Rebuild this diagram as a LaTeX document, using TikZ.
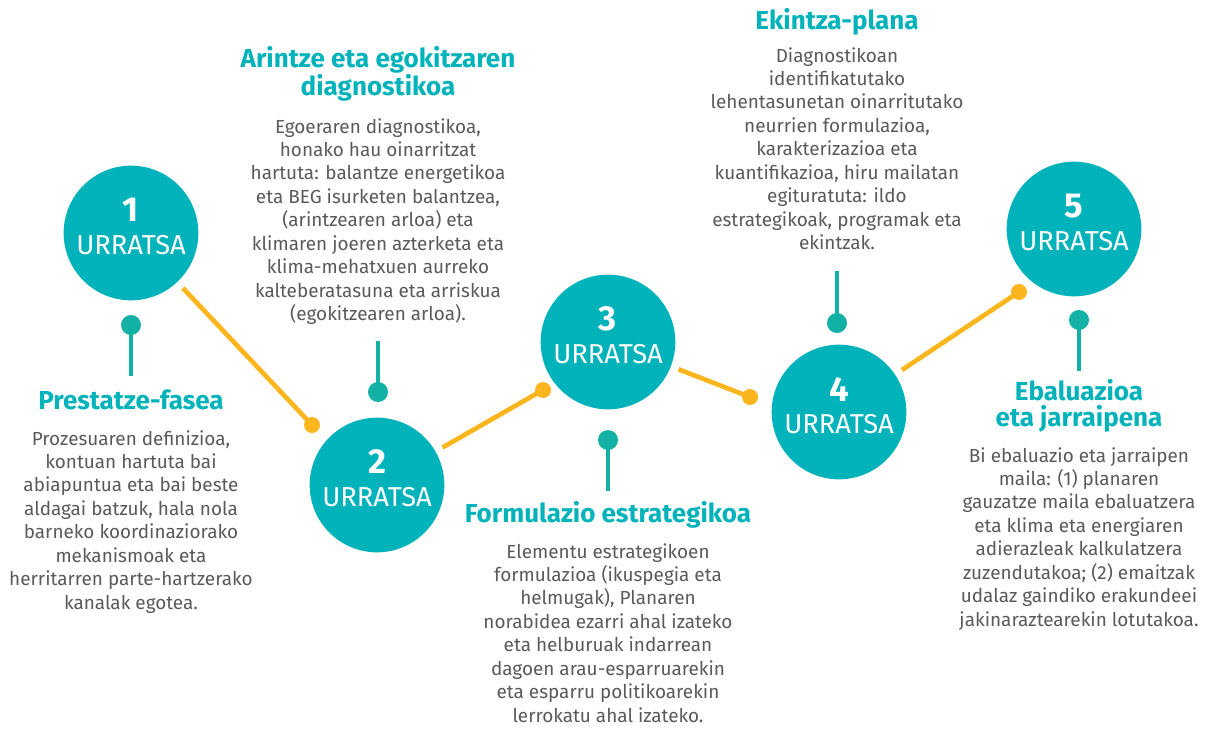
\documentclass[tikz,border=0pt]{standalone}
\usepackage{fontspec}
\setmainfont{Fira Sans}
\usetikzlibrary{positioning}

\definecolor{stepteal}{HTML}{00B3BA}
\definecolor{pinteal}{HTML}{13B0A6}
\definecolor{linkyellow}{HTML}{FBB61E}
\definecolor{bodygray}{HTML}{5A5A5A}

\tikzset{
  stepcircle/.style={circle, fill=stepteal, minimum size=101pt, inner sep=0pt},
  stepnum/.style={text=white, inner sep=0pt, font=\fontsize{26}{26}\selectfont\bfseries},
  steplabel/.style={text=white, inner sep=0pt, font=\fontsize{20.5}{20.5}\selectfont},
  ydot/.style={circle, fill=linkyellow, minimum size=12pt, inner sep=0pt},
  tdot/.style={circle, fill=pinteal, minimum size=15pt, inner sep=0pt},
  link/.style={linkyellow, line width=3.5pt, shorten <=6pt},
  pinline/.style={pinteal, line width=3pt},
  heading/.style={text=stepteal, align=center, inner sep=0pt, font=\fontsize{19.5}{19.5}\selectfont\bfseries},
  bodytext/.style={text=bodygray, align=center, anchor=north, inner sep=0pt, font=\fontsize{14.2}{17.6}\selectfont},
}

\begin{document}
\begin{tikzpicture}[x=0.75pt, y=-0.75pt]
    % white page, same size as the reference
    \useasboundingbox[fill=white] (0,0) rectangle (1206,731);

    % the five steps
    \node[stepcircle] (c1) at (131,233) {};
    \node[stepcircle] (c2) at (377,485) {};
    \node[stepcircle] (c3) at (608,342) {};
    \node[stepcircle] (c4) at (839,412) {};
    \node[stepcircle] (c5) at (1074,229) {};
    \foreach \i/\px/\py in {1/131/233, 2/377/485, 3/608/342, 4/839/412, 5/1074/229} {
        \node[stepnum] (n\i) at (\px,\py-23) {\i};
        \node[steplabel] (u\i) at (\px,\py+12) {URRATSA};
    }

    % yellow links between the steps
    \node[ydot] (yd2) at (312,425) {};
    \node[ydot] (yd3) at (543,390) {};
    \node[ydot] (yd4) at (750,397) {};
    \node[ydot] (yd5) at (1019,292) {};
    \draw[link] (c1) -- (yd2.center);
    \draw[link] (c2) -- (yd3.center);
    \draw[link] (c3) -- (yd4.center);
    \draw[link] (c4) -- (yd5.center);

    % teal pins towards the texts
    \node[tdot] (td1) at (131,325) {};
    \coordinate (tp1) at (131,376);
    \node[tdot] (td2) at (378,392) {};
    \coordinate (tp2) at (378,341);
    \node[tdot] (td3) at (608,440) {};
    \coordinate (tp3) at (608,491);
    \node[tdot] (td4) at (837,323) {};
    \coordinate (tp4) at (837,271);
    \node[tdot] (td5) at (1079,320) {};
    \coordinate (tp5) at (1079,371);
    \foreach \i in {1,...,5}
        \draw[pinline] (td\i.center) -- (tp\i);

    % texts
    \node[heading] (h1) at (131,400) {Prestatze-fasea};
    \node[bodytext] (b1) at (131,430) {Prozesuaren definizioa,\\
        kontuan hartuta bai\\
        abiapuntua eta bai beste\\
        aldagai batzuk, hala nola\\
        barneko koordinaziorako\\
        mekanismoak eta\\
        herritarren parte-hartzerako\\
        kanalak egotea.};

    \node[heading] (h2) at (378,74) {Arintze eta egokitzaren\\diagnostikoa};
    \node[bodytext] (b2) at (378,118) {Egoeraren diagnostikoa,\\
        honako hau oinarritzat\\
        hartuta: balantze energetikoa\\
        eta BEG isurketen balantzea,\\
        (arintzearen arloa) eta\\
        klimaren joeren azterketa eta\\
        klima-mehatxuen aurreko\\
        kalteberatasuna eta arriskua\\
        (egokitzearen arloa).};

    \node[heading] (h3) at (608,515) {Formulazio estrategikoa};
    \node[bodytext] (b3) at (608,543) {Elementu estrategikoen\\
        formulazioa (ikuspegia eta\\
        helmugak), Planaren\\
        norabidea ezarri ahal izateko\\
        eta helburuak indarrean\\
        dagoen arau-esparruarekin\\
        eta esparru politikoarekin\\
        lerrokatu ahal izateko.};

    \node[heading] (h4) at (837,22) {Ekintza-plana};
    \node[bodytext] (b4) at (837,47) {Diagnostikoan\\
        identifikatutako\\
        lehentasunetan oinarritutako\\
        neurrien formulazioa,\\
        karakterizazioa eta\\
        kuantifikazioa, hiru mailatan\\
        egituratuta: ildo\\
        estrategikoak, programak eta\\
        ekintzak.};

    \node[heading] (h5) at (1079,406) {Ebaluazioa\\eta jarraipena};
    \node[bodytext] (b5) at (1079,447) {Bi ebaluazio eta jarraipen\\
        maila: (1) planaren\\
        gauzatze maila ebaluatzera\\
        eta klima eta energiaren\\
        adierazleak kalkulatzera\\
        zuzendutakoa; (2) emaitzak\\
        udalaz gaindiko erakundeei\\
        jakinaraztearekin lotutakoa.};
\end{tikzpicture}
\end{document}
